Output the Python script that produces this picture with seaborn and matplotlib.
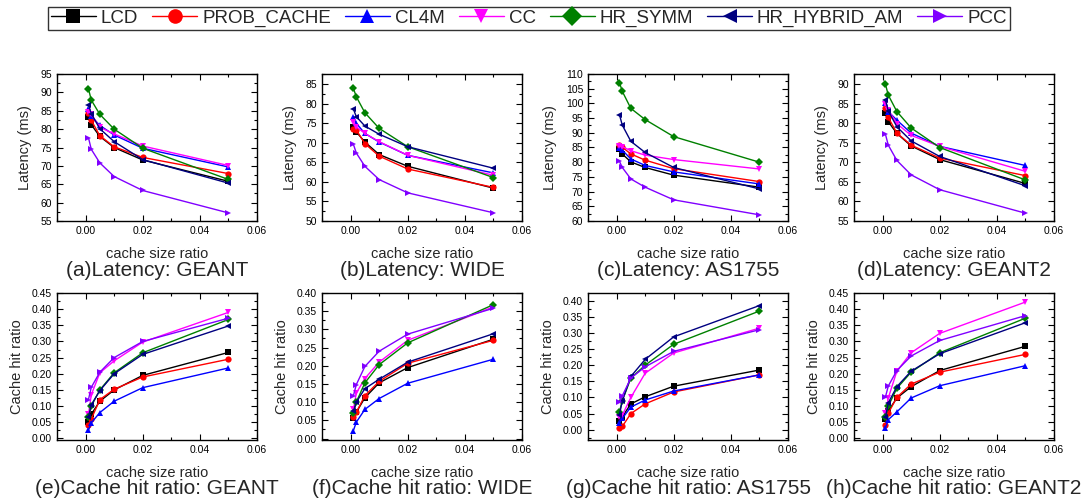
import pandas as pd
import matplotlib
matplotlib.use("Agg")
import matplotlib.pyplot as plt
from matplotlib.ticker import MultipleLocator, AutoMinorLocator, FormatStrFormatter
from matplotlib.lines import Line2D
import seaborn as sns

# estilo
sns.set_theme(style="ticks")
plt.rcParams['font.family'] = ['Liberation Sans', 'DejaVu Sans']

methods = ["LCD", "PROB_CACHE", "CL4M", "CC", "HR_SYMM", "HR_HYBRID_AM", "PCC"]
colors = ["#000000", "#FF0000", "#0000FF", "#FF00FF", "#008000", "#000080", "#8000FF"]
markers = ["s", "o", "^", "v", "D", "<", ">"]
x_ratio = [0.001, 0.002, 0.005, 0.01, 0.02, 0.05]

# one row per method (same order as `methods`)
lat_geant = [
    [83.3, 81.2, 78.0, 75.0, 71.6, 65.8],
    [84.4, 82.4, 78.2, 75.2, 72.3, 67.9],
    [85.5, 83.5, 81.0, 78.4, 74.8, 69.7],
    [84.7, 84.0, 80.5, 78.7, 75.4, 70.1],
    [91.0, 87.9, 84.0, 80.0, 74.8, 66.3],
    [86.7, 84.2, 80.1, 76.6, 71.7, 65.3],
    [77.7, 74.5, 70.8, 67.1, 63.3, 57.2],
]
lat_wide = [
    [74.1, 72.8, 70.2, 67.0, 64.0, 58.4],
    [73.5, 73.3, 69.8, 66.6, 63.3, 58.6],
    [76.5, 75.0, 72.4, 70.2, 66.8, 62.3],
    [75.4, 74.1, 72.4, 70.3, 66.8, 61.7],
    [83.9, 81.8, 77.7, 73.7, 69.0, 61.1],
    [78.6, 76.7, 74.3, 72.2, 69.0, 63.5],
    [69.6, 67.4, 64.0, 60.6, 57.2, 52.1],
]
lat_as1755 = [
    [84.6, 82.8, 80.1, 78.2, 75.6, 71.5],
    [85.9, 85.1, 82.8, 80.7, 77.8, 73.4],
    [84.9, 84.1, 81.1, 78.9, 76.7, 72.6],
    [85.6, 85.3, 83.9, 82.4, 80.9, 77.7],
    [107.1, 104.1, 98.3, 94.5, 88.7, 80.0],
    [96.2, 92.6, 87.1, 83.3, 78.2, 70.9],
    [80.3, 78.2, 74.3, 71.5, 67.2, 62.1],
]
lat_geant2 = [
    [82.5, 80.4, 77.4, 74.2, 70.7, 64.6],
    [83.8, 81.5, 77.5, 74.4, 71.1, 66.6],
    [85.3, 83.0, 80.8, 77.5, 74.1, 69.2],
    [84.9, 83.4, 79.9, 76.9, 74.1, 67.7],
    [90.0, 87.2, 83.0, 78.8, 73.8, 65.5],
    [86.0, 83.2, 79.1, 75.5, 71.5, 64.0],
    [77.2, 74.4, 70.5, 66.8, 63.0, 57.0],
]
hit_geant = [
    [0.050, 0.075, 0.115, 0.150, 0.195, 0.266],
    [0.042, 0.060, 0.120, 0.152, 0.190, 0.245],
    [0.025, 0.048, 0.080, 0.115, 0.157, 0.218],
    [0.075, 0.135, 0.203, 0.240, 0.298, 0.390],
    [0.065, 0.100, 0.150, 0.203, 0.265, 0.368],
    [0.066, 0.104, 0.148, 0.200, 0.260, 0.348],
    [0.120, 0.158, 0.205, 0.250, 0.300, 0.372],
]
hit_wide = [
    [0.057, 0.072, 0.112, 0.153, 0.195, 0.273],
    [0.060, 0.072, 0.118, 0.157, 0.207, 0.270],
    [0.022, 0.045, 0.080, 0.110, 0.152, 0.218],
    [0.080, 0.125, 0.165, 0.210, 0.270, 0.362],
    [0.070, 0.100, 0.153, 0.203, 0.263, 0.368],
    [0.075, 0.100, 0.137, 0.163, 0.210, 0.288],
    [0.118, 0.148, 0.198, 0.240, 0.287, 0.358],
]
hit_as1755 = [
    [0.028, 0.040, 0.080, 0.102, 0.135, 0.185],
    [0.005, 0.010, 0.050, 0.080, 0.117, 0.170],
    [0.020, 0.035, 0.070, 0.092, 0.120, 0.170],
    [0.040, 0.045, 0.100, 0.175, 0.238, 0.315],
    [0.055, 0.090, 0.160, 0.200, 0.265, 0.368],
    [0.045, 0.090, 0.165, 0.218, 0.288, 0.385],
    [0.085, 0.105, 0.160, 0.195, 0.243, 0.310],
]
hit_geant2 = [
    [0.060, 0.085, 0.125, 0.160, 0.210, 0.285],
    [0.040, 0.078, 0.127, 0.168, 0.205, 0.260],
    [0.032, 0.058, 0.082, 0.125, 0.163, 0.225],
    [0.078, 0.125, 0.208, 0.265, 0.325, 0.422],
    [0.065, 0.100, 0.155, 0.205, 0.265, 0.372],
    [0.065, 0.110, 0.160, 0.208, 0.262, 0.358],
    [0.128, 0.162, 0.210, 0.255, 0.303, 0.380],
]

panels = [
    (lat_geant, "Latency (ms)", "(a)Latency: GEANT", (55, 95)),
    (lat_wide, "Latency (ms)", "(b)Latency: WIDE", (50, 87.6)),
    (lat_as1755, "Latency (ms)", "(c)Latency: AS1755", (60, 110)),
    (lat_geant2, "Latency (ms)", "(d)Latency: GEANT2", (55, 92.6)),
    (hit_geant, "Cache hit ratio", "(e)Cache hit ratio: GEANT", (-0.005, 0.45)),
    (hit_wide, "Cache hit ratio", "(f)Cache hit ratio: WIDE", (-0.004, 0.40)),
    (hit_as1755, "Cache hit ratio", "(g)Cache hit ratio: AS1755", (-0.032, 0.424)),
    (hit_geant2, "Cache hit ratio", "(h)Cache hit ratio: GEANT2", (-0.005, 0.45)),
]

W, H = 1092, 503
fig = plt.figure(figsize=(W / 100, H / 100), dpi=100)
lefts = [57, 322, 588, 854]
tops = [74, 293]
aw, ah = 200, 147

palette = dict(zip(methods, colors))
mk = dict(zip(methods, markers))

for i, (vals, ylab, cap, ylim) in enumerate(panels):
    r, c = divmod(i, 4)
    x0, y0 = lefts[c], tops[r]
    ax = fig.add_axes([x0 / W, 1 - (y0 + ah) / H, aw / W, ah / H])
    df = pd.DataFrame([
        {"ratio": x, "value": v, "method": m}
        for m, row in zip(methods, vals) for x, v in zip(x_ratio, row)
    ])
    sns.lineplot(data=df, x="ratio", y="value", hue="method", style="method",
                 hue_order=methods, style_order=methods, palette=palette,
                 markers=mk, dashes=False, markersize=4.5, markeredgewidth=0,
                 linewidth=1, legend=False, ax=ax)
    ax.set_xlim(-0.01, 0.06)
    ax.set_ylim(*ylim)
    ax.xaxis.set_major_locator(MultipleLocator(0.02))
    ax.xaxis.set_minor_locator(AutoMinorLocator(2))
    ax.xaxis.set_major_formatter(FormatStrFormatter("%.2f"))
    if r == 0:
        ax.yaxis.set_major_locator(MultipleLocator(5))
        ax.yaxis.set_major_formatter(FormatStrFormatter("%d"))
    else:
        ax.yaxis.set_major_locator(MultipleLocator(0.05))
        ax.yaxis.set_major_formatter(FormatStrFormatter("%.2f"))
    ax.yaxis.set_minor_locator(AutoMinorLocator(2))
    ax.tick_params(which="both", direction="in", top=True, right=True,
                   labelsize=7.5, colors="black", width=0.8)
    ax.tick_params(which="major", length=4)
    ax.tick_params(which="minor", length=2)
    for s in ax.spines.values():
        s.set_color("black")
        s.set_linewidth(1)
    ax.set_xlabel("cache size ratio", fontsize=10.5, labelpad=8)
    ax.set_ylabel(ylab, fontsize=10.5, labelpad=6)
    cy = 270 if r == 0 else 488
    fig.text((x0 + aw / 2) / W, 1 - cy / H, cap, fontsize=15,
             ha="center", va="center")

handles = [Line2D([], [], color=c, marker=m, markersize=10.5, markeredgewidth=0,
                  linewidth=1) for c, m in zip(colors, markers)]
leg = fig.legend(handles, methods, loc="upper left", ncol=7,
                 bbox_to_anchor=(48 / W, 1 - 7 / H), fontsize=13.5,
                 frameon=True, fancybox=False, edgecolor="black",
                 handlelength=2.4, handletextpad=0.26, columnspacing=0.75,
                 borderpad=0.15, borderaxespad=0)
leg.get_frame().set_linewidth(1)

fig.savefig("out.png", dpi=100)
